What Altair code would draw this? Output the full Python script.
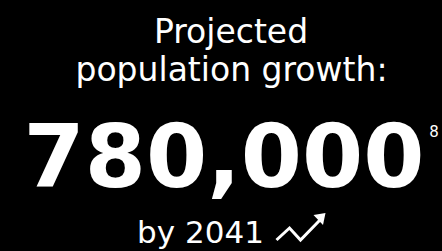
import altair as alt
import pandas as pd

# ---- content ----
title_lines = ["Projected", "population growth:"]
headline_value = ["780,000"]
footnote_mark = ["8"]
subtitle = ["by 2041"]
trend_icon = ["trend"]

# Page styling: remove the default body margin and paint it black, so the
# black poster fills the whole window as in the reference.
try:
    import altair.utils.html as _ah
    _orig_tpl = _ah.TEMPLATES["standard"]

    class _BlackPageTemplate:
        def render(self, **kw):
            html = _orig_tpl.render(**kw)
            style = "<style>html,body{margin:0;padding:0;background:#000;overflow:hidden;}</style>"
            if "<head>" in html:
                return html.replace("<head>", "<head>" + style, 1)
            return style + html

    _ah.TEMPLATES["standard"] = _BlackPageTemplate()
except Exception:
    pass

def txt_df(items):
    return pd.DataFrame({"t": items})

base_font = "DejaVu Sans"

l1 = alt.Chart(txt_df(title_lines[:1])).mark_text(
    font=base_font, fontSize=33, color="white", align="center", baseline="alphabetic"
).encode(text="t:N", x=alt.value(231), y=alt.value(43))

l2 = alt.Chart(txt_df(title_lines[1:])).mark_text(
    font=base_font, fontSize=33, color="white", align="center", baseline="alphabetic"
).encode(text="t:N", x=alt.value(231.5), y=alt.value(81))

head = alt.Chart(txt_df(headline_value)).mark_text(
    font="DejaVu Sans", fontWeight="bold", fontSize=88, color="white",
    align="center", baseline="alphabetic"
).encode(text="t:N", x=alt.value(224), y=alt.value(187))

note = alt.Chart(txt_df(footnote_mark)).mark_text(
    font=base_font, fontSize=15, color="white", align="center", baseline="alphabetic"
).encode(text="t:N", x=alt.value(434), y=alt.value(137))

sub = alt.Chart(txt_df(subtitle)).mark_text(
    font=base_font, fontSize=31, color="white", align="center", baseline="alphabetic"
).encode(text="t:N", x=alt.value(200.5), y=alt.value(243))

zigzag_path = "M-1,0.48 L-0.48,0 L-0.04,0.48 L0.72,-0.3"
head_path = "M0.96,-0.6 L0.48,-0.52 L0.86,-0.12 Z"

icon_line = alt.Chart(txt_df(trend_icon)).mark_point(
    shape=zigzag_path, filled=False, fillOpacity=0, stroke="white", strokeWidth=3,
    strokeJoin="miter", size=2500, opacity=1
).encode(x=alt.value(301.5), y=alt.value(228))

icon_head = alt.Chart(txt_df(trend_icon)).mark_point(
    shape=head_path, filled=True, fill="white", strokeWidth=0, size=2500, opacity=1
).encode(x=alt.value(301.5), y=alt.value(228))

chart = alt.layer(l1, l2, head, note, sub, icon_line, icon_head).properties(
    width=442, height=251, padding=0, background="black",
    autosize=alt.AutoSizeParams(type="none")
).configure_view(stroke=None)

chart.save("out.html", embed_options={"renderer": "svg", "actions": False})
